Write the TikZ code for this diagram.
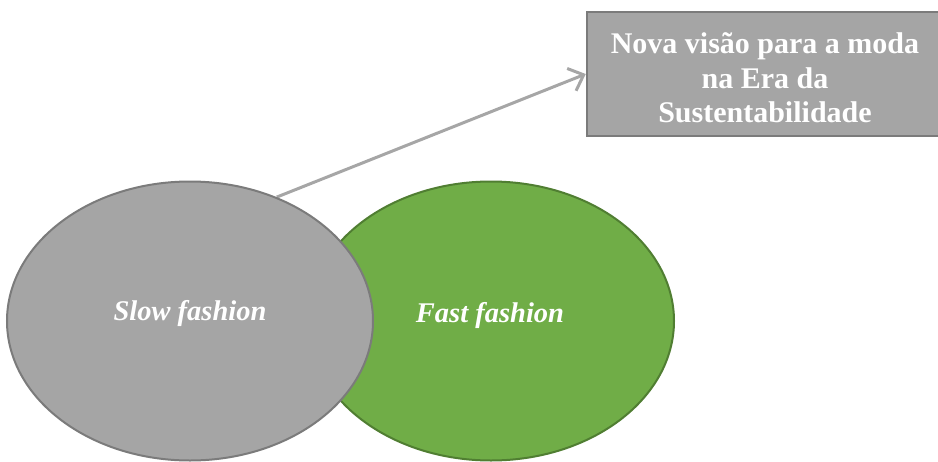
\documentclass[tikz,border=0pt]{standalone}
\usepackage{fontspec}
\setmainfont{Liberation Serif}
\usetikzlibrary{shapes.geometric,arrows.meta,backgrounds}
\definecolor{cinza}{HTML}{A5A5A5}
\definecolor{cinzaborda}{HTML}{7B7B7B}
\definecolor{verde}{HTML}{70AD47}
\definecolor{verdeborda}{HTML}{507E32}
\definecolor{seta}{HTML}{A6A6A6}
\begin{document}
\begin{tikzpicture}[x=1pt,y=-1pt,
  circulo/.style={ellipse,minimum width=366pt,minimum height=279pt,line width=2pt,inner sep=0pt},
  rotulo/.style={text=white,font=\fontsize{28.5}{33}\selectfont\bfseries\itshape},
  caixa/.style={rectangle,fill=cinza,draw=cinzaborda,line width=2.5pt,minimum width=356pt,minimum height=124pt,
    align=center,text=white,font=\fontsize{30}{34.5}\selectfont\bfseries}]
\clip (0,0) rectangle (938,461);
\node[circulo,fill=verde,draw=verdeborda] (fast) at (491,321) {};
\node[circulo,fill=cinza,draw=cinzaborda] (slow) at (190,321) {};
\node[rotulo] (slowtxt) at (190,313) {Slow fashion};
\node[rotulo] (fasttxt) at (490,315) {Fast fashion};
\node[caixa] (nova) at (765,74) {};
\node[text=white,align=center,font=\fontsize{30}{34.5}\selectfont\bfseries] (novatxt) at (765,78)
  {Nova visão para a moda\\na Era da\\Sustentabilidade};
\begin{scope}[on background layer]
\draw[seta,line width=3pt,-{Straight Barb[length=13pt,width=24pt]}] (slow.55) -- (nova.west);
\end{scope}
\end{tikzpicture}
\end{document}
